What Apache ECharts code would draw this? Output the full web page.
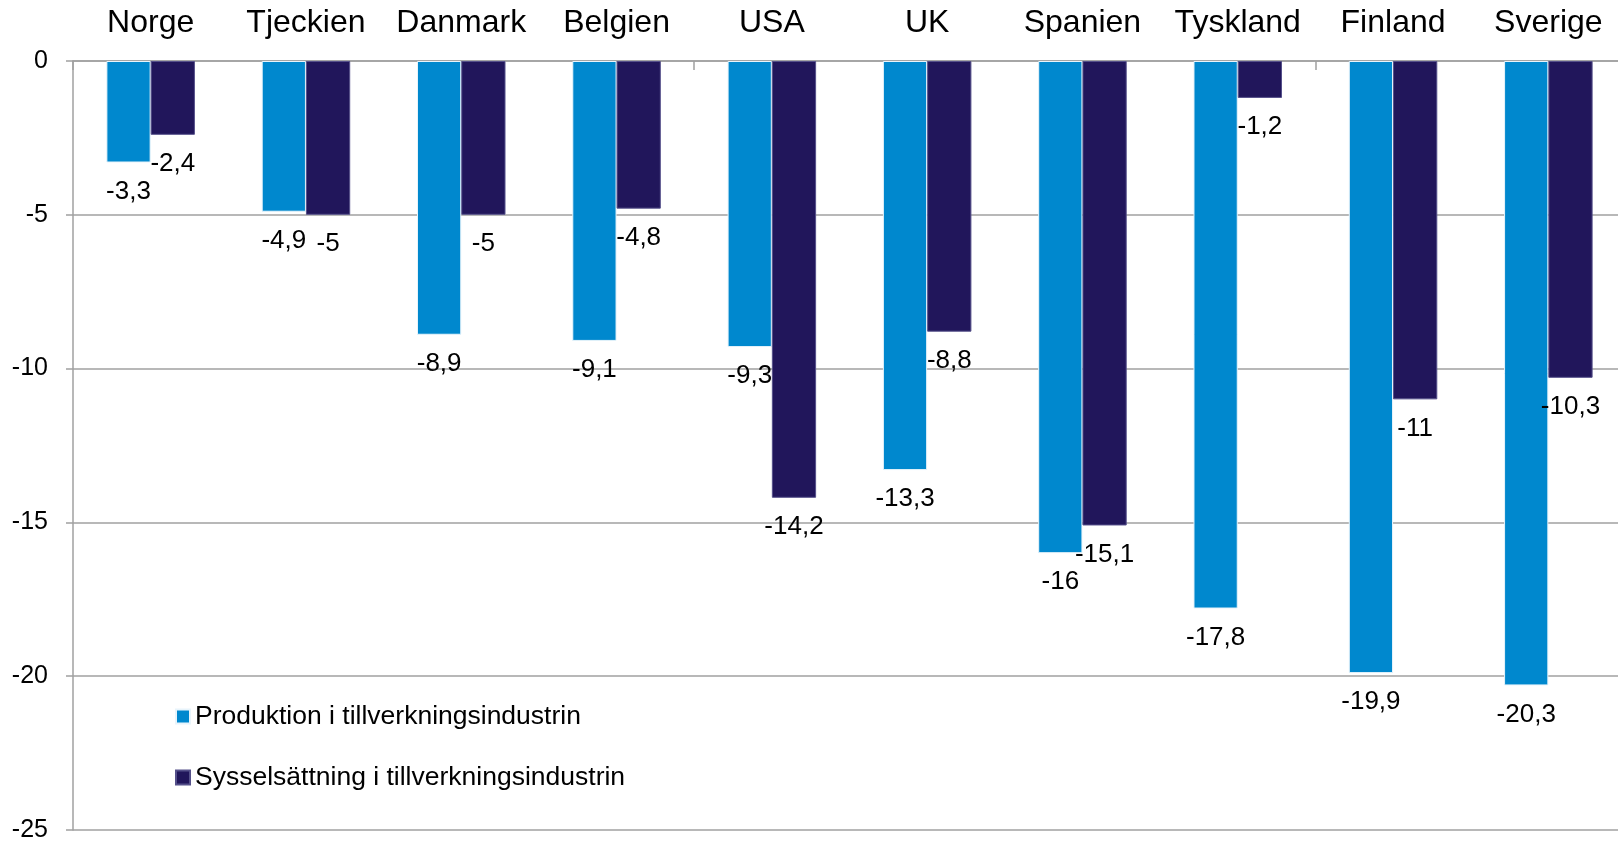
<!DOCTYPE html>
<html>
<head>
<meta charset="utf-8">
<script src="https://cdn.jsdelivr.net/npm/echarts@6/dist/echarts.min.js"></script>
<style>
html,body{margin:0;padding:0;background:#fff;}
#chart{width:1618px;height:842px;}
</style>
</head>
<body>
<div id="chart"></div>
<script>
const categories = ['Norge','Tjeckien','Danmark','Belgien','USA','UK','Spanien','Tyskland','Finland','Sverige'];
const produktion = [-3.3,-4.9,-8.9,-9.1,-9.3,-13.3,-16,-17.8,-19.9,-20.3];
const sysselsattning = [-2.4,-5,-5,-4.8,-14.2,-8.8,-15.1,-1.2,-11,-10.3];
const seriesNames = ['Produktion i tillverkningsindustrin','Sysselsättning i tillverkningsindustrin'];

const FONT = "'Liberation Sans', Arial, sans-serif";
const chart = echarts.init(document.getElementById('chart'));
const fmt = p => String(p.value).replace('.', ',');
const labelCfg = {
  show: true, position: 'bottom', distance: 16,
  color: '#000', fontSize: 26, fontFamily: FONT, formatter: fmt
};
chart.setOption({
  animation: false,
  backgroundColor: '#fff',
  grid: {left: 73, top: 61, height: 769, width: 1553, containLabel: false, outerBoundsMode: 'none'},
  legend: {
    orient: 'vertical', left: 175, top: 703, padding: 0,
    itemWidth: 14, itemHeight: 14, itemGap: 34, icon: 'rect',
    textStyle: {fontSize: 26.5, fontFamily: FONT, color: '#000', lineHeight: 27},
    data: seriesNames
  },
  xAxis: {
    type: 'category', data: categories, position: 'top',
    axisLine: {onZero: false, lineStyle: {color: '#A0A0A0', width: 1.5}},
    axisTick: {show: true, inside: true, length: 9, interval: (i) => i % 4 === 0, lineStyle: {color: '#A0A0A0', width: 1.5}},
    axisLabel: {color: '#000', fontSize: 32, fontFamily: FONT, margin: 22, interval: 0}
  },
  yAxis: {
    type: 'value', min: -25, max: 0, interval: 5,
    axisLine: {show: true, lineStyle: {color: '#A0A0A0', width: 1.5}},
    axisTick: {show: true, length: 7, lineStyle: {color: '#A0A0A0', width: 1.5}},
    axisLabel: {color: '#000', fontSize: 25, fontFamily: FONT, margin: 25},
    splitLine: {show: true, lineStyle: {color: '#A0A0A0', width: 1.5}}
  },
  series: [
    {
      name: seriesNames[0], type: 'bar', data: produktion,
      barGap: '0%', barCategoryGap: '43%',
      itemStyle: {color: '#0088CE', borderColor: '#E8F4FB', borderWidth: 1},
      label: labelCfg
    },
    {
      name: seriesNames[1], type: 'bar', data: sysselsattning,
      itemStyle: {color: '#21165B', borderColor: '#55508A', borderWidth: 1},
      label: labelCfg
    }
  ]
});
</script>
</body>
</html>
